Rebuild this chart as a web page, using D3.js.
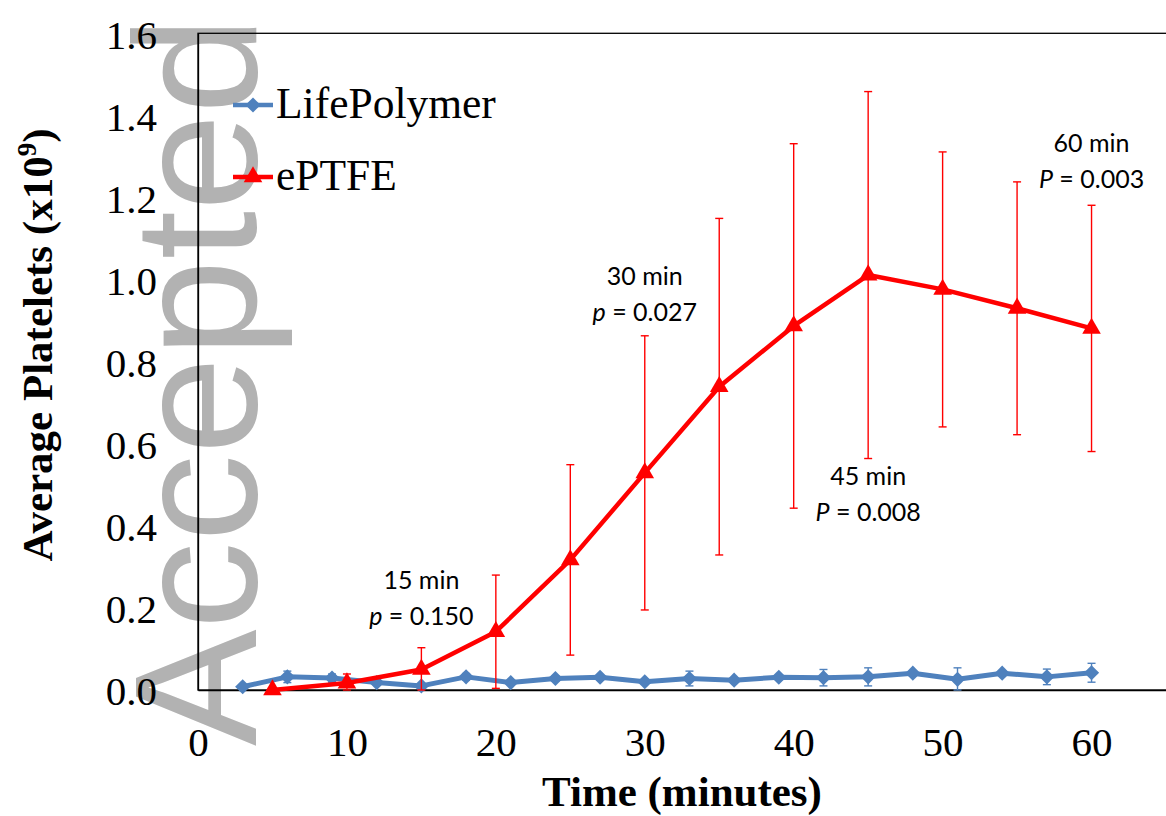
<!DOCTYPE html>
<html><head><meta charset="utf-8">
<script src="https://cdn.jsdelivr.net/npm/d3@7"></script>
<style>body{margin:0;background:#fff}svg{display:block}</style>
</head><body>
<svg id="chart" width="1166" height="816"></svg>
<script>
// ---- data ----
const lifeTimes = [3,6,9,12,15,18,21,24,27,30,33,36,39,42,45,48,51,54,57,60];
const lifeMean  = [0.008,0.032,0.029,0.018,0.010,0.032,0.018,0.028,0.031,0.020,0.028,0.024,0.031,0.030,0.032,0.041,0.026,0.041,0.032,0.042];
const lifeErr   = [0.005,0.014,0.010,0.006,0.005,0.008,0.005,0.006,0.006,0.005,0.018,0.006,0.006,0.020,0.022,0.006,0.028,0.006,0.019,0.023];
const ptfeTimes = [5,10,15,20,25,30,35,40,45,50,55,60];
const ptfeMean  = [0.000,0.017,0.050,0.142,0.317,0.529,0.739,0.887,1.011,0.976,0.930,0.881];
const ptfeErr   = [0.005,0.022,0.053,0.138,0.232,0.334,0.410,0.444,0.447,0.335,0.308,0.300];
const xTicks = [0,10,20,30,40,50,60];
const yTicks = [0,0.2,0.4,0.6,0.8,1.0,1.2,1.4,1.6];
const seriesNames = ["LifePolymer","ePTFE"];
const annotTime  = [15,30,45,60];
const annotValue = [0.268,1.009,0.52,1.333];
const annotLabel = ["15 min","30 min","45 min","60 min"];
const annotP     = ["p","p","P","P"];
const annotPval  = [" = 0.150"," = 0.027"," = 0.008"," = 0.003"];

// ---- layout ----
const svg = d3.select("#chart");
const L = 198, R = 1166, T = 33.3, B = 690;
const x = d3.scaleLinear().domain([0,65]).range([L,R]);
const y = d3.scaleLinear().domain([0,1.6]).range([B,T]);
const blue = "#4F81BD", red = "#FF0000";

// watermark
svg.append("text").attr("transform","translate(256,746) rotate(-90)")
  .attr("font-family","Liberation Sans, Arial, sans-serif").attr("font-size",175)
  .attr("fill","#b2b2b2").text("Accepted");

// plot frame
svg.append("rect").attr("x",L).attr("y",T).attr("width",R-L+5).attr("height",B-T)
  .attr("fill","none").attr("stroke","#000").attr("stroke-width",1.3);

// axes
const xAxis = svg.append("g").attr("transform",`translate(0,${B})`)
  .call(d3.axisBottom(x).tickValues(xTicks).tickSize(0).tickPadding(37).tickFormat(d3.format("d")));
const yAxis = svg.append("g").attr("transform",`translate(${L},0)`)
  .call(d3.axisLeft(y).tickValues(yTicks).tickSize(0).tickPadding(41).tickFormat(d3.format(".1f")));
[xAxis,yAxis].forEach(g=>{
  g.select(".domain").attr("stroke","#000").attr("stroke-width",1.3);
  g.selectAll("text").attr("font-family","Liberation Serif, Times New Roman, serif")
   .attr("font-size",41).attr("fill","#000");
});
yAxis.selectAll("text").attr("dy","0.36em");

// axis titles
svg.append("text").attr("x",682).attr("y",806).attr("text-anchor","middle")
  .attr("font-family","Liberation Serif, serif").attr("font-weight","bold").attr("font-size",43)
  .text("Time (minutes)");
const yt = svg.append("text").attr("transform","translate(52,345) rotate(-90)").attr("text-anchor","middle")
  .attr("font-family","Liberation Serif, serif").attr("font-weight","bold").attr("font-size",43);
yt.append("tspan").text("Average Platelets (x10");
yt.append("tspan").attr("font-size",27).attr("dy",-16).text("9");
yt.append("tspan").attr("dy",16).text(")");

// helpers
const diamond = d3.symbol().type(d3.symbolSquare).size(115);
const triangle = d3.symbol().type(d3.symbolTriangle).size(150);
function errorBars(times, mean, err, color){
  const g = svg.append("g").attr("stroke",color).attr("stroke-width",1.4);
  times.forEach((t,i)=>{
    const cx = x(t), y1 = y(mean[i]+err[i]), y2 = y(Math.max(0,mean[i]-err[i]));
    g.append("line").attr("x1",cx).attr("x2",cx).attr("y1",y1).attr("y2",y2);
    g.append("line").attr("x1",cx-4).attr("x2",cx+4).attr("y1",y1).attr("y2",y1);
    g.append("line").attr("x1",cx-4).attr("x2",cx+4).attr("y1",y2).attr("y2",y2);
  });
}
const line = d3.line().x(d=>x(d[0])).y(d=>y(d[1]));

// LifePolymer
errorBars(lifeTimes, lifeMean, lifeErr, blue);
svg.append("path").datum(lifeTimes.map((t,i)=>[t,lifeMean[i]])).attr("d",line)
  .attr("fill","none").attr("stroke",blue).attr("stroke-width",5).attr("stroke-linejoin","round");
svg.append("g").selectAll("path").data(lifeTimes).join("path")
  .attr("d",diamond).attr("fill",blue)
  .attr("transform",(t,i)=>`translate(${x(t)},${y(lifeMean[i])}) rotate(45)`);

// ePTFE
errorBars(ptfeTimes, ptfeMean, ptfeErr, red);
svg.append("path").datum(ptfeTimes.map((t,i)=>[t,ptfeMean[i]])).attr("d",line)
  .attr("fill","none").attr("stroke",red).attr("stroke-width",4.5).attr("stroke-linejoin","round");
svg.append("g").selectAll("path").data(ptfeTimes).join("path")
  .attr("d",triangle).attr("fill",red)
  .attr("transform",(t,i)=>`translate(${x(t)},${y(ptfeMean[i])})`);

// legend
const lg = svg.append("g");
[[blue,105,diamond,45],[red,177,triangle,0]].forEach((s,i)=>{
  lg.append("line").attr("x1",233).attr("x2",273).attr("y1",s[1]).attr("y2",s[1])
    .attr("stroke",s[0]).attr("stroke-width",4.5);
  lg.append("path").attr("d",s[2]).attr("fill",s[0]).attr("transform",`translate(253,${s[1]}) rotate(${s[3]})`);
  lg.append("text").attr("x",276).attr("y",s[1]+13).attr("font-family","Liberation Serif, serif")
    .attr("font-size",43.5).text(seriesNames[i]);
});

// annotations
annotTime.forEach((t,i)=>{
  const g = svg.append("g").attr("font-family","Lato, Carlito, sans-serif").attr("font-size",25)
    .attr("text-anchor","middle").attr("fill","#000");
  g.append("text").attr("x",x(t)).attr("y",y(annotValue[i])).attr("dy","0.35em").text(annotLabel[i]);
  const t2 = g.append("text").attr("x",x(t)).attr("y",y(annotValue[i])+36).attr("dy","0.35em");
  t2.append("tspan").attr("font-style","italic").text(annotP[i]);
  t2.append("tspan").text(annotPval[i]);
});
</script>
</body></html>
